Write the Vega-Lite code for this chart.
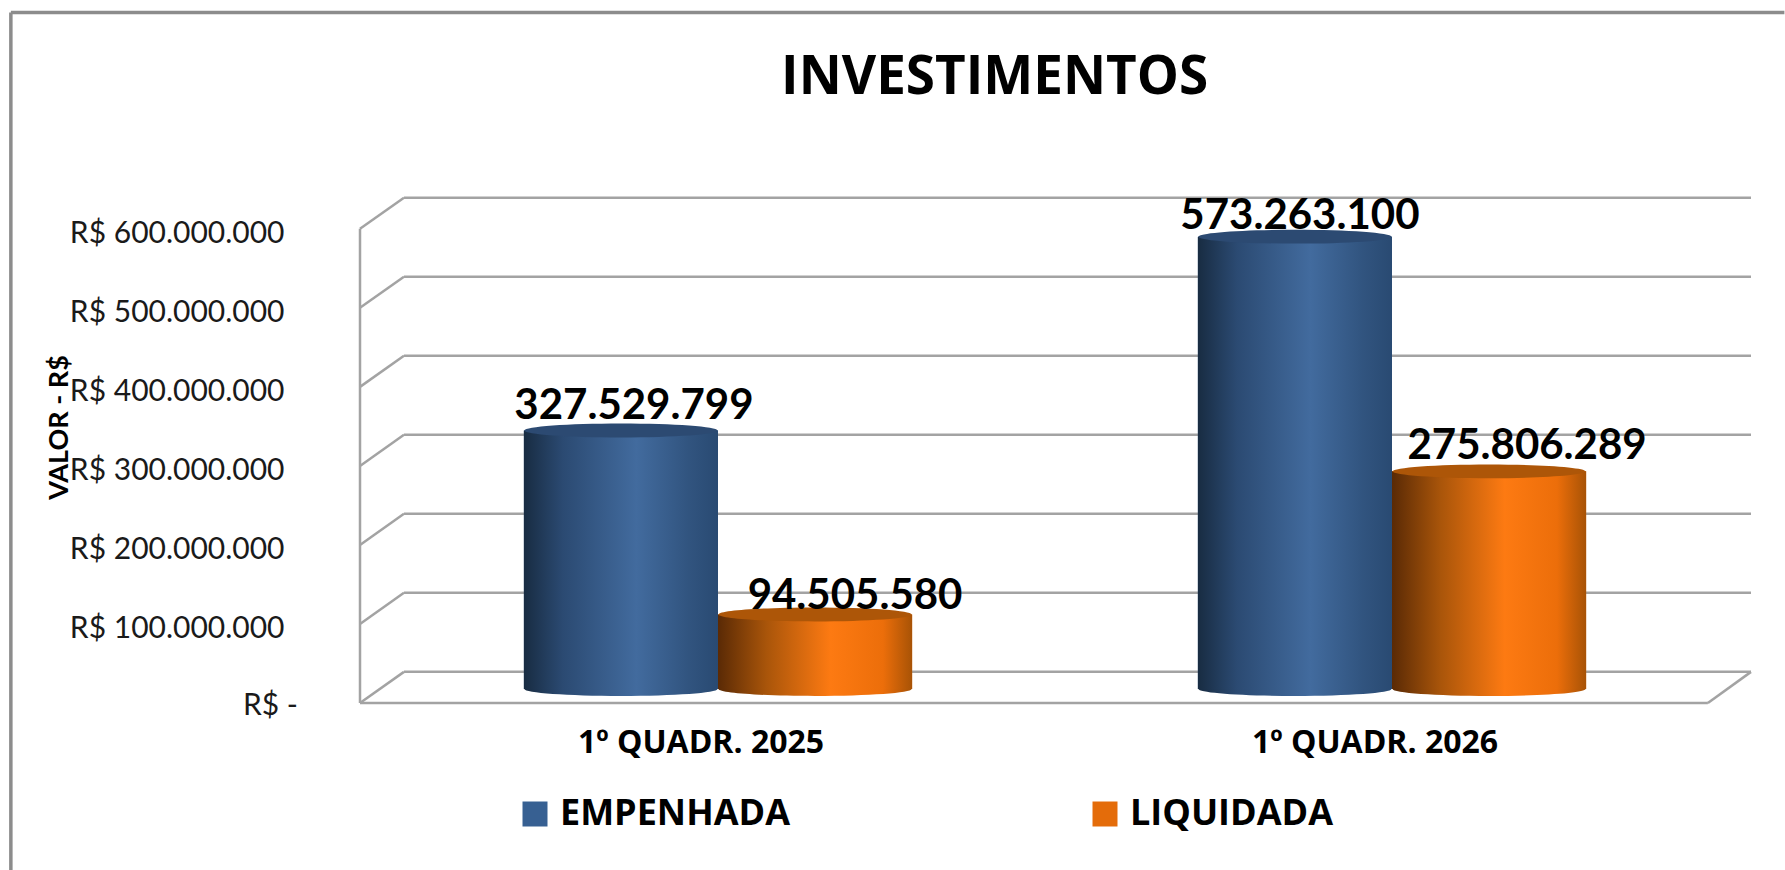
{
  "$schema": "https://vega.github.io/schema/vega-lite/v6.json",
  "autosize": {"type": "none"},
  "width": 1391,
  "height": 505,
  "padding": {"left": 360, "top": 198, "right": 34, "bottom": 167},
  "background": "white",
  "title": {"text": "INVESTIMENTOS", "anchor": "start", "frame": "bounds", "font": "Open Sans", "fontSize": 53, "fontWeight": "bold", "color": "#000000", "dx": 772, "dy": 140, "baseline": "alphabetic"},
  "config": {"view": {"stroke": null}, "font": "Lato"},
  "datasets": {
    "valores": [
      {"quadrimestre": "1º QUADR. 2025", "despesa": "EMPENHADA", "valor": 327529799},
      {"quadrimestre": "1º QUADR. 2025", "despesa": "LIQUIDADA", "valor": 94505580},
      {"quadrimestre": "1º QUADR. 2026", "despesa": "EMPENHADA", "valor": 573263100},
      {"quadrimestre": "1º QUADR. 2026", "despesa": "LIQUIDADA", "valor": 275806289}
    ],
    "marcas": [{"tick": 0}, {"tick": 100000000}, {"tick": 200000000}, {"tick": 300000000}, {"tick": 400000000}, {"tick": 500000000}, {"tick": 600000000}],
    "moldura": [{"item": "moldura", "rotulo": "R$ -"}]
  },
  "resolve": {"scale": {"x": "independent", "y": "independent"}},
  "layer": [
    {
      "layer": [
        {
          "data": {"name": "marcas"},
          "transform": [{"calculate": "datum.tick + 39400000", "as": "fundo"}],
          "mark": {"type": "rule", "color": "#a3a3a3", "strokeWidth": 2.5},
          "encoding": {
            "x": {"datum": 0, "scale": {"domain": [0, 100], "range": [0, 1391], "nice": false}, "axis": null},
            "x2": {"datum": 3.16},
            "y": {"field": "tick", "type": "quantitative", "scale": {"domain": [0, 639000000], "range": [505, 0], "nice": false},
              "axis": {"orient": "left", "title": "VALOR - R$", "titleFont": "Lato", "titleFontSize": 27, "titleFontWeight": "bold", "titleColor": "#000000", "titleX": -287, "titleY": 229, "values": [100000000, 200000000, 300000000, 400000000, 500000000, 600000000],
                "labelExpr": "'R$ ' + replace(format(datum.value, ','), /,/g, '.')",
                "labelFont": "Lato", "labelFontSize": 30, "labelColor": "#1a1a1a", "labelPadding": 76, "labelOffset": 5, "labelLimit": 400, "ticks": false, "domain": false, "grid": false, "labelFlush": false, "labelOverlap": false}},
            "y2": {"field": "fundo"}
          }
        },
        {
          "data": {"name": "marcas"},
          "transform": [{"calculate": "datum.tick + 39400000", "as": "fundo"}],
          "mark": {"type": "rule", "color": "#a3a3a3", "strokeWidth": 2.5},
          "encoding": {"x": {"datum": 3.16}, "x2": {"datum": 100}, "y": {"field": "fundo", "type": "quantitative"}}
        },
        {"data": {"name": "moldura"}, "mark": {"type": "text", "font": "Lato", "fontSize": 30, "color": "#1a1a1a", "align": "right", "baseline": "middle", "dy": 3},
          "encoding": {"x": {"datum": -4.46}, "y": {"datum": 0}, "text": {"field": "rotulo", "type": "nominal"}}},
        {"data": {"name": "moldura"}, "mark": {"type": "rule", "color": "#a3a3a3", "strokeWidth": 2.5},
          "encoding": {"x": {"datum": 0}, "y": {"datum": 0}, "y2": {"datum": 600000000}}},
        {"data": {"name": "moldura"}, "mark": {"type": "rule", "color": "#a3a3a3", "strokeWidth": 2.5},
          "encoding": {"x": {"datum": 0}, "x2": {"datum": 96.9}, "y": {"datum": 0}}},
        {"data": {"name": "moldura"}, "mark": {"type": "rule", "color": "#a3a3a3", "strokeWidth": 2.5},
          "encoding": {"x": {"datum": 96.9}, "x2": {"datum": 100}, "y": {"datum": 0}, "y2": {"datum": 39400000}}},
        {"data": {"name": "moldura"}, "mark": {"type": "rule", "color": "#8c8c8c", "strokeWidth": 3.5},
          "encoding": {"x": {"datum": -25.1}, "y": {"datum": -212000000}, "y2": {"datum": 873800000}}},
        {"data": {"name": "moldura"}, "mark": {"type": "rule", "color": "#8c8c8c", "strokeWidth": 3.5},
          "encoding": {"x": {"datum": -25.1}, "x2": {"datum": 102.4}, "y": {"datum": 873800000}}}
      ]
    },
    {
      "data": {"name": "valores"},
      "transform": [{"calculate": "replace(format(datum.valor, ','), /,/g, '.')", "as": "rotulo"}],
      "encoding": {
        "x": {"field": "quadrimestre", "type": "nominal", "scale": {"range": [21, 1369], "paddingInner": 0.424, "paddingOuter": 0.212},
          "axis": {"orient": "bottom", "title": null, "labelAngle": 0, "labelOffset": -17, "labelFont": "Open Sans", "labelFontSize": 32, "labelFontWeight": "bold", "labelColor": "#000000", "labelPadding": 24, "labelLimit": 500, "ticks": false, "domain": false, "grid": false}},
        "xOffset": {"field": "despesa", "type": "nominal", "scale": {"paddingInner": 0, "paddingOuter": 0}},
        "y": {"field": "valor", "type": "quantitative", "scale": {"domain": [0, 640000000], "range": [491, -14], "nice": false}, "axis": null}
      },
      "layer": [
        {"mark": {"type": "bar"},
          "encoding": {"color": {"field": "despesa", "type": "nominal", "scale": {"domain": ["EMPENHADA", "LIQUIDADA"], "range": ["#376092", "#E46C0A"]},
            "legend": {"orient": "none", "legendX": 157, "legendY": 598, "direction": "horizontal", "columns": 2, "title": null, "symbolType": "square", "symbolSize": 625, "symbolStrokeWidth": 0, "labelFont": "Open Sans", "labelFontSize": 36, "labelFontWeight": "bold", "labelColor": "#000000", "labelLimit": 500, "columnPadding": 296, "labelOffset": 7}}}},
        {"transform": [{"filter": "datum.despesa === 'EMPENHADA'"}],
          "layer": [
            {"mark": {"type": "point", "filled": true, "opacity": 1, "size": 37249, "shape": "M-1,0A1,0.072 0 0,0 1,0Z", "fill": {"gradient": "linear", "x1": 0, "x2": 1, "y1": 0, "y2": 0, "stops": [{"offset": 0, "color": "#182c42"}, {"offset": 0.2, "color": "#2b4a72"}, {"offset": 0.58, "color": "#426b9e"}, {"offset": 0.85, "color": "#31547f"}, {"offset": 1, "color": "#294a72"}]}},
              "encoding": {"y": {"datum": 0}}},
            {"mark": {"type": "bar", "fill": {"gradient": "linear", "x1": 0, "x2": 1, "y1": 0, "y2": 0, "stops": [{"offset": 0, "color": "#182c42"}, {"offset": 0.2, "color": "#2b4a72"}, {"offset": 0.58, "color": "#426b9e"}, {"offset": 0.85, "color": "#31547f"}, {"offset": 1, "color": "#294a72"}]}}},
            {"mark": {"type": "point", "filled": true, "opacity": 1, "size": 37249, "shape": "M-1,0A1,0.072 0 1,1 1,0A1,0.072 0 1,1 -1,0Z", "fill": "#2c4a72"}}
          ]},
        {"transform": [{"filter": "datum.despesa === 'LIQUIDADA'"}],
          "layer": [
            {"mark": {"type": "point", "filled": true, "opacity": 1, "size": 37249, "shape": "M-1,0A1,0.072 0 0,0 1,0Z", "fill": {"gradient": "linear", "x1": 0, "x2": 1, "y1": 0, "y2": 0, "stops": [{"offset": 0, "color": "#5a2a05"}, {"offset": 0.25, "color": "#a9550a"}, {"offset": 0.58, "color": "#fd7a12"}, {"offset": 0.85, "color": "#ec6e0a"}, {"offset": 1, "color": "#a85306"}]}},
              "encoding": {"y": {"datum": 0}}},
            {"mark": {"type": "bar", "fill": {"gradient": "linear", "x1": 0, "x2": 1, "y1": 0, "y2": 0, "stops": [{"offset": 0, "color": "#5a2a05"}, {"offset": 0.25, "color": "#a9550a"}, {"offset": 0.58, "color": "#fd7a12"}, {"offset": 0.85, "color": "#ec6e0a"}, {"offset": 1, "color": "#a85306"}]}}},
            {"mark": {"type": "point", "filled": true, "opacity": 1, "size": 37249, "shape": "M-1,0A1,0.072 0 1,1 1,0A1,0.072 0 1,1 -1,0Z", "fill": "#ad5608"}}
          ]},
        {"transform": [{"filter": "datum.valor === 327529799"}], "mark": {"type": "text", "font": "Lato", "fontSize": 42, "fontWeight": "bold", "color": "#000000", "dx": 13, "dy": -25},
          "encoding": {"text": {"field": "rotulo", "type": "nominal"}}},
        {"transform": [{"filter": "datum.valor === 94505580"}], "mark": {"type": "text", "font": "Lato", "fontSize": 42, "fontWeight": "bold", "color": "#000000", "dx": 40, "dy": -18},
          "encoding": {"text": {"field": "rotulo", "type": "nominal"}}},
        {"transform": [{"filter": "datum.valor === 573263100"}], "mark": {"type": "text", "font": "Lato", "fontSize": 42, "fontWeight": "bold", "color": "#000000", "dx": 5, "dy": -21},
          "encoding": {"text": {"field": "rotulo", "type": "nominal"}}},
        {"transform": [{"filter": "datum.valor === 275806289"}], "mark": {"type": "text", "font": "Lato", "fontSize": 42, "fontWeight": "bold", "color": "#000000", "dx": 38, "dy": -25},
          "encoding": {"text": {"field": "rotulo", "type": "nominal"}}}
      ]
    }
  ]
}
